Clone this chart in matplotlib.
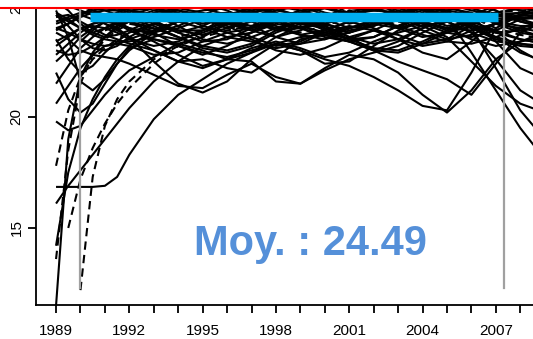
import numpy as np
import matplotlib
matplotlib.use("Agg")
import matplotlib.pyplot as plt
from matplotlib.lines import Line2D
from matplotlib.patches import Rectangle

N = np.nan

# time grid (half years at the start, then yearly)
years = [1989, 1989.5, 1990, 1990.5, 1991, 1991.5, 1992, 1993, 1994, 1995, 1996, 1997,
         1998, 1999, 2000, 2001, 2002, 2003, 2004, 2005, 2006, 2007, 2008, 2009]

# solid series
solid = [
    [16.85, 16.85, 16.85, 16.85, 16.9, 17.3, 18.3, 19.9, 21.0, 21.7, 22.4, 22.9, 23.3, 23.6, 23.7, 23.4, 23.0, 22.9, 23.3, 23.8, 24.1, 23.6, 22.9, 22.5],
    [11.5, 19.0, 21.8, 22.9, 23.6, 24.1, 24.4, 24.8, 24.6, 24.2, 24.5, 25.0, 25.3, 25.1, 24.7, 24.5, 24.9, 25.2, 24.8, 24.3, 24.6, 25.0, 24.8, 24.5],
    [16.1, 16.9, 17.6, 18.3, 19.0, 19.7, 20.4, 21.6, 22.5, 23.2, 23.6, 23.4, 23.1, 23.3, 23.8, 24.1, 23.9, 23.5, 23.2, 23.4, 23.9, 24.2, 24.0, 23.8],
    [14.2, 17.5, 19.5, 20.8, 21.8, 22.6, 23.2, 23.9, 24.3, 24.0, 23.6, 23.8, 24.3, 24.6, 24.2, 23.8, 24.1, 24.6, 24.9, 24.5, 24.0, 23.6, 23.3, 23.1],
    [22.0, 20.8, 20.2, 20.6, 21.5, 22.4, 23.0, 23.8, 24.3, 24.6, 24.2, 23.9, 24.3, 24.7, 24.4, 24.0, 24.2, 24.6, 24.3, 23.9, 24.2, 24.6, 24.3, 24.0],
    [19.8, 19.4, 19.6, 20.3, 21.0, 21.6, 22.1, 22.7, 23.3, 23.0, 22.6, 22.9, 23.6, 24.1, 23.8, 23.5, 23.9, 24.4, 24.7, 24.3, 23.8, 23.4, 23.3, 23.2],
    [24.8, 23.6, 21.6, 21.2, 21.7, 22.4, 23.1, 23.5, 23.2, 22.8, 23.2, 23.8, 24.2, 24.0, 23.7, 24.0, 24.4, 24.8, 24.5, 24.1, 24.3, 24.7, 24.9, 25.0],
    [23.5, 22.6, 22.0, 22.3, 22.9, 23.4, 23.8, 24.2, 24.6, 24.4, 24.0, 24.3, 24.8, 25.0, 24.6, 24.2, 24.5, 24.9, 25.1, 24.7, 24.3, 24.5, 24.7, 24.6],
    [N, N, N, N, 24.2, 24.0, 23.6, 22.5, 21.5, 21.1, 21.6, 22.6, 23.3, 23.0, 22.4, 22.5, 23.2, 23.9, 24.3, 24.0, 23.5, 23.2, 23.4, 23.6],
    [23.8, 23.5, 23.0, 22.8, 22.7, 22.6, 22.4, 21.9, 21.4, 21.3, 21.9, 22.4, 21.8, 21.5, 22.2, 22.8, 22.6, 22.0, 21.0, 20.2, 21.2, 22.6, 23.4, 23.8],
    [24.5, 24.6, 24.3, 24.0, 23.7, 23.5, 23.3, 23.0, 22.5, 22.2, 22.6, 22.5, 21.6, 21.5, 22.1, 22.6, 22.9, 23.2, 23.8, 24.3, 24.6, 24.3, 23.9, 23.6],
    [N, N, 24.6, 24.4, 24.2, 23.9, 23.6, 23.0, 22.5, 22.6, 22.2, 22.0, 22.7, 23.5, 23.7, 23.4, 23.0, 23.4, 24.0, 24.4, 24.2, 23.8, 23.5, 23.3],
    [24.0, 24.2, 24.5, 24.7, 24.8, 24.6, 24.3, 23.8, 23.2, 22.9, 22.7, 23.0, 23.3, 23.0, 22.6, 22.3, 21.8, 21.2, 20.5, 20.3, 22.0, 24.0, 24.6, 24.8],
    [N, N, N, N, N, N, 24.8, 24.6, 24.1, 23.5, 23.3, 23.6, 24.0, 24.3, 24.1, 23.6, 23.0, 22.5, 22.1, 21.7, 21.0, 22.4, 23.8, 24.3],
    [24.6, 24.3, 24.0, 23.8, 24.0, 24.3, 24.6, 24.9, 24.7, 24.3, 24.5, 24.8, 25.0, 24.8, 24.5, 24.7, 25.0, 24.9, 24.6, 24.5, 22.9, 21.2, 19.5, 18.1],
    [24.2, 24.4, 24.6, 24.8, 24.9, 24.8, 24.6, 24.2, 23.8, 24.1, 24.6, 24.9, 24.7, 24.3, 24.2, 24.5, 24.9, 25.0, 24.9, 24.8, 24.0, 22.2, 20.3, 19.0],
    [23.2, 23.6, 24.0, 24.2, 24.3, 24.2, 24.0, 23.7, 23.5, 23.8, 24.2, 24.4, 24.1, 23.7, 23.5, 23.8, 24.2, 24.4, 24.1, 23.6, 22.5, 21.4, 20.6, 20.2],
    [N, N, N, N, 23.9, 24.1, 24.3, 24.6, 24.8, 24.6, 24.2, 24.0, 24.3, 24.7, 24.9, 24.7, 24.4, 24.6, 24.9, 25.0, 24.6, 23.4, 22.2, 21.7],
    [24.9, 25.0, 24.8, 24.6, 24.5, 24.7, 24.9, 25.1, 24.8, 24.4, 24.2, 24.5, 24.9, 25.2, 25.0, 24.6, 24.4, 24.7, 25.0, 25.2, 24.9, 24.6, 24.4, 24.5],
    [23.9, 24.2, 24.6, 24.9, 25.1, 25.0, 24.8, 24.3, 23.9, 23.7, 24.0, 24.5, 24.8, 24.6, 24.2, 23.9, 24.1, 24.5, 24.8, 24.6, 24.1, 23.8, 23.9, 24.2],
    [25.2, 24.8, 24.2, 23.8, 23.6, 23.7, 23.9, 24.4, 24.9, 25.1, 24.8, 24.3, 23.9, 24.0, 24.5, 25.0, 25.1, 24.7, 24.2, 24.0, 24.4, 24.9, 25.1, 24.9],
    [22.8, 23.3, 23.8, 24.2, 24.5, 24.6, 24.6, 24.3, 23.8, 23.4, 23.5, 24.0, 24.5, 24.4, 23.9, 23.5, 23.6, 24.1, 24.6, 24.9, 24.7, 24.2, 23.8, 23.6],
    [24.3, 24.5, 24.7, 24.7, 24.5, 24.2, 23.9, 23.5, 23.3, 23.6, 24.2, 24.7, 24.9, 24.5, 24.0, 23.8, 24.2, 24.7, 24.9, 24.6, 24.0, 23.5, 23.2, 23.1],
    [N, N, 23.4, 23.9, 24.3, 24.6, 24.8, 24.9, 24.6, 24.1, 23.8, 24.0, 24.4, 24.8, 24.9, 24.6, 24.2, 24.0, 24.3, 24.8, 25.1, 24.8, 24.3, 24.1],
    [21.5, 22.3, 23.1, 23.6, 24.0, 24.2, 24.3, 24.0, 23.6, 23.2, 23.0, 23.3, 23.9, 24.3, 24.1, 23.6, 23.3, 23.5, 24.0, 24.4, 24.3, 23.9, 23.5, 23.3],
    [25.0, 25.1, 25.0, 24.8, 24.6, 24.3, 24.0, 23.8, 24.1, 24.6, 25.0, 24.8, 24.3, 24.0, 24.2, 24.6, 24.9, 24.6, 24.2, 23.8, 23.6, 23.9, 24.4, 24.7],
    [23.0, 22.8, 22.9, 23.2, 23.6, 24.0, 24.3, 24.7, 24.9, 24.7, 24.3, 23.9, 23.6, 23.9, 24.4, 24.7, 24.5, 24.0, 23.6, 23.8, 24.3, 24.7, 24.9, 24.8],
    [24.0, 23.8, 23.5, 23.3, 23.2, 23.3, 23.5, 23.9, 24.3, 24.6, 24.7, 24.4, 24.0, 23.7, 23.9, 24.3, 24.6, 24.4, 23.9, 23.5, 23.7, 24.2, 24.5, 24.4],
    [N, N, N, N, N, 24.9, 24.7, 24.3, 23.9, 23.9, 24.3, 24.6, 24.4, 24.0, 23.6, 23.4, 23.6, 24.1, 24.5, 24.8, 24.6, 24.3, 24.1, 24.1],
    [24.6, 24.1, 23.5, 23.1, 23.0, 23.2, 23.6, 24.2, 24.6, 24.8, 24.9, 24.7, 24.4, 24.2, 24.3, 24.6, 24.8, 24.7, 24.3, 24.0, 23.9, 24.2, 24.6, 24.8],
    [22.5, 23.0, 23.6, 24.0, 24.3, 24.4, 24.4, 24.1, 23.6, 23.1, 22.9, 23.2, 23.8, 24.2, 24.0, 23.5, 23.1, 23.0, 23.4, 23.9, 24.4, 24.6, 24.4, 24.1],
    [25.1, 25.2, 25.1, 24.9, 24.8, 24.8, 24.9, 25.0, 25.1, 24.9, 24.6, 24.7, 25.0, 25.2, 25.1, 24.9, 24.8, 25.0, 25.2, 25.1, 24.8, 24.6, 24.7, 24.9],
    [23.4, 23.7, 24.0, 24.1, 24.0, 23.8, 23.5, 23.2, 23.4, 23.9, 24.3, 24.1, 23.6, 23.3, 23.5, 24.0, 24.3, 24.1, 23.7, 23.4, 23.3, 23.6, 24.0, 24.3],
    [20.6, 21.4, 22.2, 22.8, 23.2, 23.3, 23.2, 22.8, 22.9, 23.4, 23.8, 23.5, 23.0, 22.8, 23.1, 23.6, 23.9, 23.7, 23.3, 23.5, 24.1, 23.9, 23.0, 22.4],
    [N, N, N, N, N, N, 23.9, 23.4, 22.8, 22.3, 22.6, 23.1, 23.4, 23.1, 22.7, 22.9, 23.4, 23.8, 24.1, 24.3, 23.8, 22.6, 21.2, 20.5],
    [24.7, 24.4, 24.0, 23.7, 23.5, 23.4, 23.4, 23.6, 24.0, 24.4, 24.1, 23.6, 23.2, 23.4, 23.9, 24.3, 24.0, 23.5, 22.9, 22.6, 23.4, 24.3, 24.6, 24.5],
]

# dashed series
dashed = [
    [13.6, 18.5, 21.5, 22.8, 23.5, 23.9, 24.2, 24.0, 23.6, 23.9, 24.5, 24.7, 24.3, 24.0, 24.4, 24.8, 24.5, 24.1, 24.3, 24.7, 24.5, 24.0, 23.7, 23.5],
    [N, N, 12.2, 17.3, 19.6, 20.8, 21.6, 22.6, 23.2, 23.6, 23.9, 24.1, 24.3, 24.5, 24.6, 24.7, 24.8, 24.7, 24.6, 24.4, 24.5, 24.7, 24.8, 24.8],
    [17.8, 20.3, 21.8, 22.6, 23.1, 23.5, 23.8, 24.0, 24.3, 24.6, 24.4, 24.1, 24.4, 24.8, 25.0, 24.7, 24.3, 24.5, 24.9, 24.6, 24.2, 24.4, 24.6, 24.5],
    [N, 15.0, 17.2, 18.6, 19.7, 20.6, 21.3, 22.4, 23.2, 23.7, 24.0, 24.2, 24.0, 23.8, 24.1, 24.5, 24.6, 24.3, 24.1, 24.3, 24.6, 24.7, 24.5, 24.4],
]

mean_value = 24.49
mean_start, mean_end = 1990.4, 2007.1
vlines_x = [1990.0, 2007.35]
xticks_all = list(range(1989, 2009))
xlabels = [1989, 1992, 1995, 1998, 2001, 2004, 2007]
yticks = [15, 20, 25]

plt.rcParams['font.family'] = ['Liberation Sans', 'DejaVu Sans']

fig = plt.figure(figsize=(5.33, 3.39), dpi=100)
ax = fig.add_axes([36 / 533, 1 - 305 / 339, 1 - 36 / 533, 305 / 339])

for s in solid:
    ax.plot(years, s, color='black', lw=1.5, solid_capstyle='butt')
for s in dashed:
    ax.plot(years, s, color='black', lw=1.5, dashes=(4, 2.5))

for xv in vlines_x:
    ax.plot([xv, xv], [12.3, 26], color='#a0a0a0', lw=1.6, zorder=3)

ax.plot([mean_start, mean_end], [mean_value, mean_value], color='#00aeef', lw=6.8,
        solid_capstyle='butt', zorder=4)

ax.text(1999.43, 13.78, f"Moy. : {mean_value:.2f}", color='#5590d9', fontsize=30,
        fontweight='bold', ha='center', va='baseline', zorder=5)

ax.set_xlim(1988.18, 2008.52)
ax.set_ylim(11.53, 25.27)
ax.set_xticks(xticks_all)
ax.set_xticklabels([str(y) if y in xlabels else '' for y in xticks_all])
ax.set_yticks(yticks)
ax.set_yticklabels([str(v) for v in yticks], rotation=90, va='center')
ax.tick_params(axis='x', length=6, width=1.3, labelsize=11, pad=8)
ax.tick_params(axis='y', length=6, width=1.3, labelsize=11, pad=3)
ax.spines['top'].set_visible(False)
ax.spines['right'].set_visible(False)
ax.spines['left'].set_linewidth(1.3)
ax.spines['bottom'].set_linewidth(1.3)

# white band and red rule at the top edge
fig.add_artist(Rectangle((0, 1 - 7.5 / 339), 1, 7.5 / 339, transform=fig.transFigure,
                         facecolor='white', edgecolor='none', zorder=10))
fig.add_artist(Line2D([0, 1], [1 - 8 / 339, 1 - 8 / 339], transform=fig.transFigure,
                      color='red', lw=1.5, zorder=11))

fig.savefig("out.png", dpi=100)
